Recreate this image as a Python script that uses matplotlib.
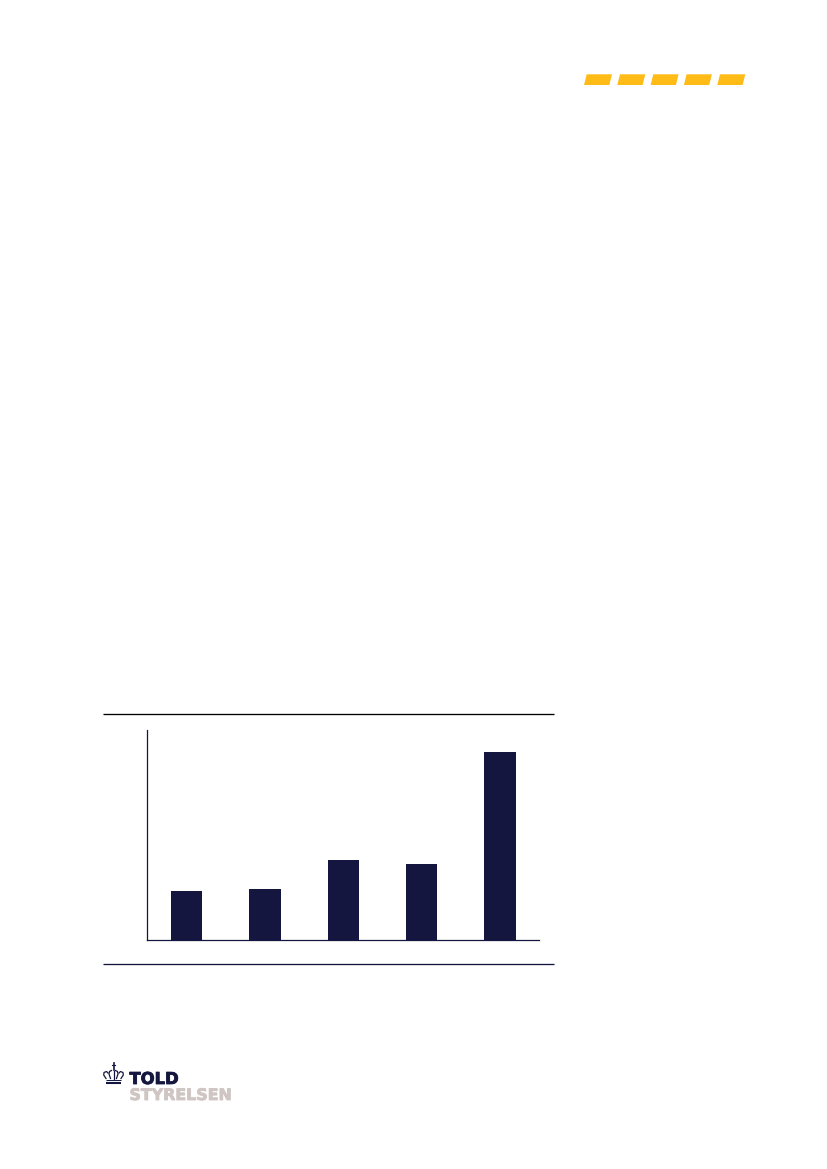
import matplotlib.pyplot as plt
import matplotlib.patheffects as pe
from matplotlib.patches import Polygon

NAVY = '#15163f'
YELLOW = '#ffbb16'
TAUPE = '#cfc5c3'

# no labels in the picture, values read off as bar heights
categories = ['A', 'B', 'C', 'D', 'E']
values = [49.3, 51, 80, 76.3, 188]

dash_starts = [584.0, 617.3, 650.6, 683.9, 717.3]

W, H = 827, 1169
fig = plt.figure(figsize=(W / 100, H / 100), dpi=100)

# page layer in pixel coordinates
page = fig.add_axes([0, 0, 1, 1])
page.set_xlim(0, W)
page.set_ylim(H, 0)
page.axis('off')

# yellow dashes top right
for x0 in dash_starts:
    page.add_patch(Polygon([(x0, 85), (x0 + 2.7, 74.3), (x0 + 28, 74.3), (x0 + 25.3, 85)],
                           closed=True, facecolor=YELLOW, edgecolor='none'))

# rules above and below the chart
page.plot([103, 553.7], [714.4, 714.4], color='#000000', lw=0.95, solid_capstyle='butt')
page.plot([103, 553.7], [964.4, 964.4], color=NAVY, lw=0.95, solid_capstyle='butt')

# bar chart
ax = fig.add_axes([147 / W, 1 - 940.3 / H, (538.5 - 147) / W, (940.3 - 730) / H])
ax.bar(range(len(values)), values, width=0.4, color=NAVY)
ax.set_xlim(-0.508, 4.492)
ax.set_ylim(0, 210.3)
ax.set_xticks([])
ax.set_yticks([])
ax.spines['top'].set_visible(False)
ax.spines['right'].set_visible(False)
ax.spines['left'].set_color(NAVY)
ax.spines['bottom'].set_color(NAVY)
ax.spines['left'].set_linewidth(0.9)
ax.spines['bottom'].set_linewidth(0.9)
ax.patch.set_alpha(0)

# logo text, stroked a little to get the heavy weight
page.text(129.5, 1084, 'TOLD', family='DejaVu Sans', weight='bold', fontsize=11.8,
          color=NAVY, va='baseline', ha='left',
          path_effects=[pe.withStroke(linewidth=0.6, foreground=NAVY)])
page.text(129.5, 1100, 'STYRELSEN', family='DejaVu Sans', weight='bold', fontsize=11.4,
          color=TAUPE, va='baseline', ha='left',
          path_effects=[pe.withStroke(linewidth=0.6, foreground=TAUPE)])

# crown
cx = 113.5
page.plot([cx - 7.5, cx + 7.5], [1082.6, 1082.6], color=NAVY, lw=1.5, solid_capstyle='butt')
page.plot([cx - 7.5, cx + 7.5], [1079.6, 1079.6], color=NAVY, lw=0.7, solid_capstyle='butt')
for side in (-1, 1):
    page.plot([cx + side * 7.5, cx + side * 9.8, cx + side * 9.5, cx + side * 7, cx + side * 5.5],
              [1078.5, 1075, 1072.5, 1071.5, 1073], color=NAVY, lw=0.9)
    page.plot([cx + side * 3, cx + side * 4.5, cx + side * 4, cx + side * 2],
              [1078.5, 1074, 1071.5, 1070.5], color=NAVY, lw=0.9)
page.plot([cx, cx], [1071, 1078.5], color=NAVY, lw=0.9)
page.plot([cx, cx], [1063, 1069.5], color=NAVY, lw=1.2)
page.plot([cx - 1.8, cx + 1.8], [1065, 1065], color=NAVY, lw=0.8)

fig.savefig('out.png', dpi=100, facecolor='white')
